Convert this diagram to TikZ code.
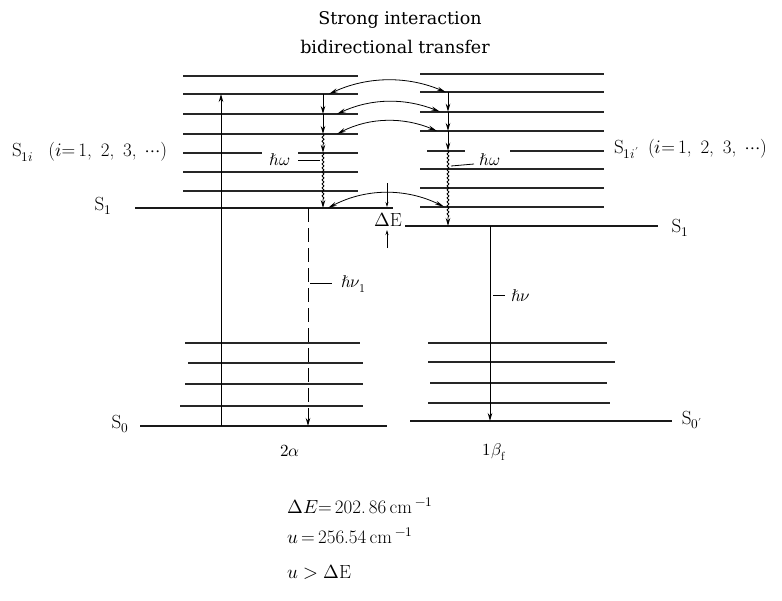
\documentclass[tikz,border=0pt]{standalone}
\usepackage{unicode-math}
\newfontfamily\titlefont{DejaVu Serif}
\usetikzlibrary{arrows.meta,decorations.pathmorphing}
\begin{document}
\begin{tikzpicture}[x=1pt,y=-1pt,
  lvl/.style={line width=1.7pt,black!85},
  gnd/.style={line width=2.2pt,black!90},
  tip/.style={-{Stealth[length=8pt,width=4.5pt]}},
  dtip/.style={{Stealth[length=9pt,width=4pt]}-{Stealth[length=9pt,width=4pt]},line width=0.8pt},
  vert/.style={line width=0.9pt},
  wavy/.style={decorate,decoration={snake,amplitude=0.9pt,segment length=4pt,post length=8pt}},
  lab/.style={font=\fontsize{19}{21}\selectfont,inner sep=0pt},
  sml/.style={font=\fontsize{17}{19}\selectfont,inner sep=0pt},
  big/.style={font=\titlefont\fontsize{17.5}{20}\selectfont,inner sep=0pt}]
\useasboundingbox (0,0) rectangle (782,600);
% title
\node[big] (t1) at (400,20) {Strong interaction};
\node[big] (t2) at (395,47) {bidirectional transfer};
% left upper levels
\foreach \y in {75.7,94,114,134,171.7,190.7}
  \draw[lvl] (183,\y) -- (358,\y);
\draw[lvl] (183,152.7) -- (262,152.7);
\draw[lvl] (298,152.7) -- (358,152.7);
\draw[gnd] (135,208) -- (393,208);
% left lower levels
\draw[lvl] (185,342.7) -- (360,342.7);
\draw[lvl] (188,363.3) -- (363,363.3);
\draw[lvl] (185,384) -- (363,384);
\draw[lvl] (180,406) -- (363,406);
\draw[gnd] (140,426) -- (387,426);
% right upper levels
\foreach \y in {74,92.3,111.7,131,169.3,188.3,206.7}
  \draw[lvl] (420,\y) -- (604,\y);
\draw[lvl] (427,150.7) -- (465,150.7);
\draw[lvl] (510,150.7) -- (604,150.7);
\draw[gnd] (405,226) -- (658,226);
% right lower levels
\draw[lvl] (428,342.7) -- (607,342.7);
\draw[lvl] (428,361.7) -- (615,361.7);
\draw[lvl] (430,383) -- (607,383);
\draw[lvl] (428,402.7) -- (610,402.7);
\draw[gnd] (410,421) -- (672,421);
% named points
\coordinate (absB) at (221,426); \coordinate (absT) at (221,94);
\coordinate (fl1T) at (308,208); \coordinate (fl1B) at (308,426);
\coordinate (fl2T) at (490,226); \coordinate (fl2B) at (490,421);
% absorption and fluorescence
\draw[vert,tip] (absB) -- (absT);
\draw[vert,tip,dash pattern=on 14pt off 6pt] (fl1T) -- (fl1B);
\draw[vert,tip] (fl2T) -- (fl2B);
% left relaxation
\coordinate (la) at (323,94); \coordinate (lb) at (323,114);
\coordinate (lc) at (323,134); \coordinate (ld) at (323,152.7);
\coordinate (le) at (323,208);
\draw[vert,tip] (la) -- (lb);
\draw[vert,tip] (lb) -- (lc);
\draw[vert,tip,wavy] (lc) -- (ld);
\draw[vert,tip,wavy] (ld) -- (le);
% right relaxation
\coordinate (ra) at (448,92.3); \coordinate (rb) at (448,111.7);
\coordinate (rc) at (448,131); \coordinate (rd) at (448,150.7);
\coordinate (re) at (448,226);
\draw[vert,tip] (ra) -- (rb);
\draw[vert,tip] (rb) -- (rc);
\draw[vert,tip] (rc) -- (rd);
\draw[vert,tip,wavy] (rd) -- (re);
% bidirectional arcs
\coordinate (a1l) at (329,94); \coordinate (a1r) at (446,92.3);
\draw[dtip] (a1l) .. controls (368,76) and (408,76) .. (a1r);
\coordinate (a2l) at (337,114); \coordinate (a2r) at (440,111.7);
\draw[dtip] (a2l) .. controls (372,98) and (405,98) .. (a2r);
\coordinate (a3l) at (337,134); \coordinate (a3r) at (437,131);
\draw[dtip] (a3l) .. controls (370,117) and (404,117) .. (a3r);
\coordinate (a4l) at (328,208); \coordinate (a4r) at (444,206.7);
\draw[dtip] (a4l) .. controls (366,188) and (406,188) .. (a4r);
% Delta E
\coordinate (dEa) at (387,183); \coordinate (dEb) at (387,207);
\coordinate (dEc) at (387,248); \coordinate (dEd) at (387,230);
\draw[line width=0.7pt,-{Stealth[length=5pt,width=3pt]}] (dEa) -- (dEb);
\draw[line width=0.7pt,-{Stealth[length=5pt,width=3pt]}] (dEc) -- (dEd);
\node[lab] (dE) at (388,220) {$\Delta$E};
% hbar omega labels
\node[sml] (how1) at (280,160) {$\hbar\omega$};
\draw[line width=0.8pt] (298,160) -- (320,160);
\node[sml] (how2) at (490,160) {$\hbar\omega$};
\draw[line width=0.8pt] (451,166) -- (474,164);
% hbar nu labels
\draw[line width=0.8pt] (310,283) -- (332,283);
\node[sml,anchor=west] (hn1) at (341,284) {$\hbar\nu_1$};
\draw[line width=0.8pt] (493,295) -- (505,295);
\node[sml,anchor=west] (hn2) at (511,296) {$\hbar\nu$};
% state labels
\node[lab,anchor=west] (s1i) at (12,152) {S$_{1i}$\ \ \,($i$=\,1,\, 2,\, 3,\, $\cdots$)};
\node[lab] (s1l) at (103,206) {S$_1$};
\node[lab,anchor=west] (s1ir) at (614,149) {S$_{1i'}$\ \,($i$=\,1,\, 2,\, 3,\, $\cdots$)};
\node[lab] (s1r) at (680,228) {S$_1$};
\node[lab] (s0l) at (120,424) {S$_0$};
\node[lab] (s0r) at (692,420) {S$_{0'}$};
\node[sml] (m1) at (290,451) {$2\alpha$};
\node[sml] (m2) at (494,452) {$1\beta_{\mathrm f}$};
% equations
\node[lab,anchor=west] (e1) at (287,506) {$\Delta E$=\,202.\,86\,cm\,$^{-1}$};
\node[lab,anchor=west] (e2) at (287,536) {$u$\,=\,256.54\,cm\,$^{-1}$};
\node[lab,anchor=west] (e3) at (287,572) {$u>\Delta\mathrm{E}$};
\end{tikzpicture}
\end{document}
